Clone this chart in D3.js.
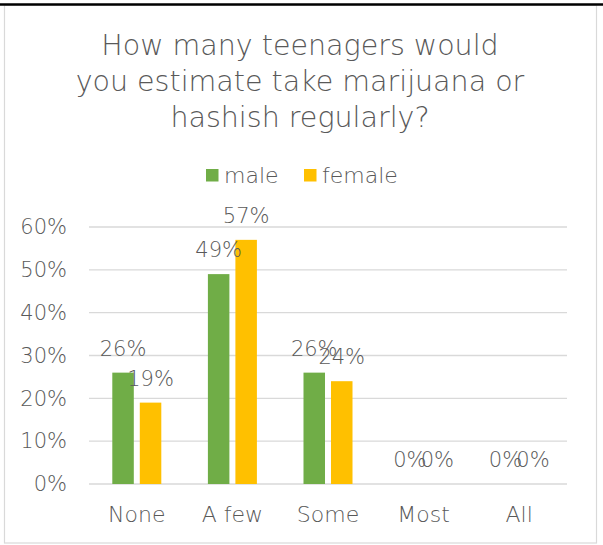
<!DOCTYPE html>
<html>
<head>
<meta charset="utf-8">
<script src="https://cdn.jsdelivr.net/npm/d3@7"></script>
<style>
html,body{margin:0;padding:0;background:#fff;}
svg{display:block;}
text{font-family:"DejaVu Sans",sans-serif;font-weight:200;fill:#595959;}
</style>
</head>
<body>
<div id="chart"></div>
<script>
const categories = ["None", "A few", "Some", "Most", "All"];
const seriesNames = ["male", "female"];
const maleValues = [0.26, 0.49, 0.26, 0, 0];
const femaleValues = [0.19, 0.57, 0.24, 0, 0];
const yTicks = [0, 0.1, 0.2, 0.3, 0.4, 0.5, 0.6];
const titleLines = ["How many teenagers would", "you estimate take marijuana or", "hashish regularly?"];
const colors = {male: "#70AD47", female: "#FFC000"};

const W = 603, H = 545;
const svg = d3.select("#chart").append("svg").attr("width", W).attr("height", H);
svg.append("rect").attr("width", W).attr("height", H).attr("fill", "#fff");

// frame
svg.append("rect").attr("x", 4.5).attr("y", 5).attr("width", 592).attr("height", 538)
  .attr("fill", "none").attr("stroke", "#D9D9D9").attr("stroke-width", 1.2);
svg.append("line").attr("x1", 0).attr("x2", W).attr("y1", 4.5).attr("y2", 4.5)
  .attr("stroke", "#000").attr("stroke-width", 2.5);

// title
svg.append("text").attr("text-anchor", "middle").style("font-size", "28.5px")
  .selectAll("tspan").data(titleLines).join("tspan")
  .attr("x", 300).attr("y", (d, i) => 55 + i * 36).text(d => d);

// legend
const legendItems = [{name: "male", x: 206}, {name: "female", x: 304}];
const lg = svg.append("g").selectAll("g").data(legendItems).join("g");
lg.append("rect").attr("x", d => d.x).attr("y", 169).attr("width", 12.5).attr("height", 12.5)
  .attr("fill", d => colors[d.name]);
lg.append("text").attr("x", d => d.x + 18).attr("y", 183).style("font-size", "22px").text(d => d.name);

// scales
const x0 = d3.scaleBand().domain(categories).range([89, 567]).paddingInner(0).paddingOuter(0);
const bw = x0.bandwidth();
const x1 = d3.scaleBand().domain(seriesNames).range([bw * 0.2437, bw * 0.7563]).paddingInner(0.218).paddingOuter(0);
const y = d3.scaleLinear().domain([0, 0.6]).range([484, 227]);

// grid
svg.append("g").selectAll("line").data(yTicks).join("line")
  .attr("x1", 89).attr("x2", 567).attr("y1", d => y(d)).attr("y2", d => y(d))
  .attr("stroke", "#D9D9D9").attr("stroke-width", 1.3);

// y axis labels
const yAxis = d3.axisLeft(y).tickValues(yTicks).tickFormat(d3.format(".0%")).tickSize(0).tickPadding(0);
const yg = svg.append("g").attr("transform", "translate(67,0)").call(yAxis);
yg.select(".domain").remove();
yg.selectAll("text").style("font-size", "21px").attr("fill", "#595959").attr("font-family", null);

// x axis labels
const xAxis = d3.axisBottom(x0).tickSize(0).tickPadding(0);
const xg = svg.append("g").attr("transform", "translate(0,506.5)").call(xAxis);
xg.select(".domain").remove();
xg.selectAll("text").style("font-size", "22px").attr("fill", "#595959").attr("font-family", null);

// data
const data = categories.map((c, i) => ({cat: c, values: [
  {series: "male", v: maleValues[i]}, {series: "female", v: femaleValues[i]}]}));

const groups = svg.append("g").selectAll("g").data(data).join("g")
  .attr("transform", d => `translate(${x0(d.cat)},0)`);
groups.selectAll("rect").data(d => d.values).join("rect")
  .attr("x", d => x1(d.series)).attr("width", x1.bandwidth())
  .attr("y", d => y(d.v)).attr("height", d => y(0) - y(d.v))
  .attr("fill", d => colors[d.series]);
groups.selectAll("text").data(d => d.values).join("text")
  .attr("x", d => x1(d.series) + x1.bandwidth() / 2).attr("y", d => y(d.v) - 17)
  .attr("text-anchor", "middle").style("font-size", "21px")
  .text(d => d3.format(".0%")(d.v));
</script>
</body>
</html>
